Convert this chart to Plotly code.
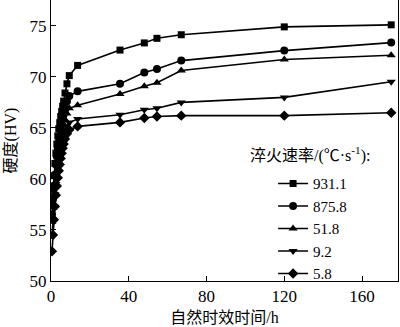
import plotly.graph_objects as go

# aging time (h)
time_h = [0.5, 1, 1.5, 2, 2.5, 3, 3.5, 4, 4.5, 5, 5.5, 6, 6.5, 7.2, 8.2, 9.4,
          13.7, 35.5, 48, 54.5, 67, 120, 175]

rates = ["931.1", "875.8", "51.8", "9.2", "5.8"]

hv_931 = [57.5, 59.0, 60.3, 61.5, 62.5, 63.4, 64.2, 64.9, 65.5, 66.1, 66.6, 67.1, 67.6, 68.4, 69.3, 70.1,
          71.1, 72.6, 73.3, 73.75, 74.1, 74.87, 75.07]
hv_876 = [56.5, 58.0, 59.3, 60.4, 61.4, 62.2, 62.9, 63.6, 64.2, 64.8, 65.3, 65.8, 66.3, 66.9, 67.6, 68.1,
          68.56, 69.3, 70.4, 70.75, 71.57, 72.55, 73.33]
hv_52 = [55.8, 57.2, 58.5, 59.6, 60.6, 61.4, 62.1, 62.8, 63.4, 63.9, 64.4, 64.8, 65.3, 65.8, 66.4, 66.9,
         67.2, 68.3, 69.05, 69.4, 70.6, 71.67, 72.1]
hv_9 = [54.5, 56.0, 57.3, 58.5, 59.5, 60.4, 61.2, 61.9, 62.5, 63.0, 63.5, 63.9, 64.3, 64.8, 65.2, 65.5,
        65.85, 66.27, 66.76, 66.9, 67.48, 67.97, 69.5]
hv_6 = [52.9, 54.5, 56.0, 57.3, 58.4, 59.3, 60.1, 60.8, 61.4, 62.0, 62.5, 63.0, 63.4, 63.9, 64.4, 64.8,
        65.13, 65.52, 65.95, 66.1, 66.18, 66.18, 66.47]

series = [hv_931, hv_876, hv_52, hv_9, hv_6]
symbols = ["square", "circle", "triangle-up", "triangle-down", "diamond"]
sizes = [7, 8, 8, 8, 8]

x_ticks = [0, 40, 80, 120, 160]
y_ticks = [50, 55, 60, 65, 70, 75]

SERIF = "Liberation Serif"
MIX = "Liberation Serif, Noto Sans CJK SC"

fig = go.Figure()
for name, ys, sym, sz in zip(rates, series, symbols, sizes):
    fig.add_trace(go.Scatter(
        x=time_h, y=ys, name=name, mode="lines+markers",
        line=dict(color="black", width=1.6),
        marker=dict(symbol=sym, size=sz, color="black"),
    ))

fig.update_layout(
    width=400, height=327,
    margin=dict(l=51, r=2, t=0, b=46),
    plot_bgcolor="white", paper_bgcolor="white",
    font=dict(family=SERIF, size=16, color="black"),
    showlegend=True,
    legend=dict(x=0.64, y=0.405, xanchor="left", yanchor="top",
                bgcolor="rgba(0,0,0,0)", font=dict(size=15, family=SERIF),
                itemwidth=30, tracegroupgap=0),
    annotations=[dict(
        text="淬火速率/(℃·s<sup>-1</sup>):", x=0.745, y=0.45,
        xref="paper", yref="paper", xanchor="center", yanchor="middle",
        showarrow=False, font=dict(size=16, family=MIX))],
)
fig.update_xaxes(
    range=[0, 178.5], tickvals=x_ticks, ticks="inside", ticklen=5,
    tickcolor="black", showline=True, linecolor="black", linewidth=1,
    showgrid=False, zeroline=False, tickfont=dict(family=SERIF, size=17),
    title=dict(text="自然时效时间/h", font=dict(size=16, family=MIX), standoff=6),
)
fig.update_yaxes(
    range=[50, 77.5], tickvals=y_ticks, ticks="inside", ticklen=5,
    tickcolor="black", showline=True, linecolor="black", linewidth=1,
    mirror=True, showgrid=False, zeroline=False, tickfont=dict(family=SERIF, size=17),
    title=dict(text="硬度(HV)", font=dict(size=16, family=MIX), standoff=8),
)

fig.write_html("out.html")
